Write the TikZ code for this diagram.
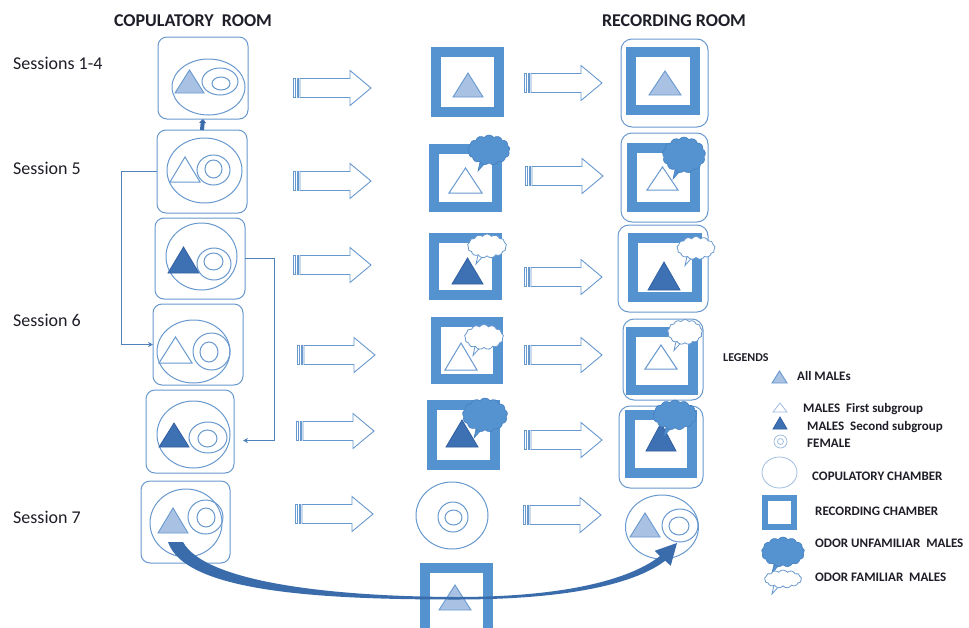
\documentclass[tikz,border=0pt]{standalone}
\usepackage{fontspec}
\setmainfont{Carlito}
\usetikzlibrary{shapes.symbols,shapes.geometric,arrows.meta,calc}
\definecolor{outl}{RGB}{104,153,206}
\definecolor{recblue}{RGB}{84,146,208}
\definecolor{ltfill}{RGB}{169,194,228}
\definecolor{dkfill}{RGB}{62,112,180}
\definecolor{dkline}{RGB}{50,95,160}
\definecolor{cloudblue}{RGB}{84,146,208}
\definecolor{cloudline}{RGB}{70,128,192}
\definecolor{connblue}{RGB}{79,129,189}
\definecolor{curvecol}{RGB}{58,108,172}
\definecolor{txt}{RGB}{30,30,40}
\definecolor{legline}{RGB}{160,190,225}
\newcommand{\mytri}[5]{\draw[#5] (#1,#4) -- (#3,#4) -- ({(#1+#3)/2},#2) -- cycle;}
\newcommand{\myoval}[5]{\draw[#5] ({(#1+#3)/2},{(#2+#4)/2}) ellipse [x radius={(#3-#1)/2}, y radius={(#4-#2)/2}];}
% name, cx, cy, w, h, style
\newcommand{\mycloud}[6]{%
  \filldraw[#6] ({#2-9},{#3+#5/2-3}) -- ({#2-3},{#3+#5/2-3}) -- ({#2-11},{#3+#5/2+6}) -- cycle;
  \node[cloudsh,#6,minimum width=#4pt,minimum height=#5pt] (#1) at (#2,#3) {};}
\begin{document}
\begin{tikzpicture}[x=1pt,y=-1pt,
  copbox/.style={draw=outl, line width=1pt, rounded corners=9pt, inner sep=0pt, outer sep=0pt},
  chamb/.style={draw=outl, line width=1pt},
  ltri/.style={fill=ltfill, draw=outl, line width=0.9pt},
  otri/.style={draw=outl, line width=1pt, fill=white},
  dtri/.style={fill=dkfill, draw=dkline, line width=0.8pt},
  fem/.style={draw=outl, line width=1pt},
  recsq/.style={draw=recblue, line width=10pt, inner sep=0pt, outer sep=0pt},
  rbox/.style={draw=outl, line width=1pt, rounded corners=11pt, inner sep=0pt, outer sep=0pt},
  darkcloud/.style={fill=cloudblue, draw=cloudline, line width=0.6pt},
  whitecloud/.style={fill=white, draw=outl, line width=0.8pt},
  cloudsh/.style={cloud, cloud puffs=13, cloud puff arc=110, cloud ignores aspect, inner sep=0pt, outer sep=0pt},
  arrowline/.style={draw=outl, line width=0.9pt, fill=white},
  conn/.style={draw=connblue, line width=1pt},
  lbl/.style={font=\fontsize{18}{20}\selectfont, anchor=west, text=txt, inner sep=0pt},
  ttl/.style={font=\bfseries\fontsize{18}{20}\selectfont, text=txt, inner sep=0pt},
  leg/.style={font=\bfseries\fontsize{13}{15}\selectfont, anchor=west, text=txt, inner sep=0pt},
  barrow/.pic={
    \draw[arrowline] (0,-9.5) rectangle (2.5,9.5);
    \draw[arrowline] (4,-9.5) rectangle (5.5,9.5);
    \draw[arrowline] (7,-9.5) -- (57,-9.5) -- (57,-17.5) -- (78,0) -- (57,17.5) -- (57,9.5) -- (7,9.5) -- cycle;
  }]
\useasboundingbox[fill=white] (0,0) rectangle (969,627);

% titles and labels
\node[ttl] (t1) at (193,21) {COPULATORY\ \ ROOM};
\node[ttl] (t2) at (674,21) {RECORDING ROOM};
\node[lbl] (s1) at (13,63) {Sessions 1-4};
\node[lbl] (s5) at (13,168) {Session 5};
\node[lbl] (s6) at (13,320) {Session 6};
\node[lbl] (s7) at (13,517) {Session 7};

% ---------- copulatory column ----------
\node[copbox, minimum width=90pt, minimum height=82pt] (c1) at (203,78) {};
\myoval{172}{59}{245}{115}{chamb}
\mytri{175}{70}{204}{93}{ltri}
\myoval{202}{68}{238}{95}{fem}
\myoval{212}{77}{230}{90}{fem}

\node[copbox, minimum width=90pt, minimum height=83pt] (c2) at (202,171.5) {};
\myoval{167}{138}{242}{203}{chamb}
\mytri{170}{157}{200}{182}{otri}
\myoval{197}{155}{230}{185}{fem}
\myoval{205}{160}{222}{178}{fem}

\node[copbox, minimum width=90pt, minimum height=81pt] (c3) at (200,258.5) {};
\myoval{166}{223}{237}{290}{chamb}
\mytri{168}{247}{199}{273}{dtri}
\myoval{197}{248}{231}{280}{fem}
\myoval{204}{253}{223}{270}{fem}

\node[copbox, minimum width=90pt, minimum height=81pt] (c4) at (198,344.5) {};
\myoval{157}{320}{230}{383}{chamb}
\mytri{159}{337}{192}{363}{otri}
\myoval{193}{333}{230}{370}{fem}
\myoval{200}{342}{218}{362}{fem}

\node[copbox, minimum width=88pt, minimum height=83pt] (c5) at (190,431.5) {};
\myoval{157}{401}{230}{468}{chamb}
\mytri{159}{423}{189}{447}{dtri}
\myoval{189}{422}{227}{453}{fem}
\myoval{198}{430}{217}{447}{fem}

\node[copbox, minimum width=89pt, minimum height=82pt] (c6) at (185.5,522) {};
\myoval{150}{489}{222}{557}{chamb}
\mytri{158}{508}{188}{533}{ltri}
\myoval{188}{500}{223}{534}{fem}
\myoval{197}{508}{215}{527}{fem}

% connectors on the left
\draw[line width=4pt, draw=curvecol, -{Triangle[length=4pt,width=7pt]}] (c2.north) -- (c1.south);
\draw[conn, -{Stealth[length=5pt,width=5pt]}] (c2.west) -- ++(-36,0) |- (c4.west);
\coordinate (c5in) at ([xshift=9pt,yshift=-9pt]c5.east);
\draw[conn, -{Stealth[length=5pt,width=5pt]}] (c3.east) -- ++(29,0) |- (c5in);

% ---------- block arrows ----------
\pic at (293,88) {barrow};
\pic at (293,181) {barrow};
\pic at (293,265) {barrow};
\pic at (297,355) {barrow};
\pic at (296,431) {barrow};
\pic at (295,514) {barrow};
\pic at (524,83) {barrow};
\pic at (525,176) {barrow};
\pic at (524,277) {barrow};
\pic at (524,355) {barrow};
\pic at (524,440) {barrow};
\pic at (523,515) {barrow};

% ---------- middle column ----------
\node[recsq, minimum width=63pt, minimum height=60pt] (r1) at (467.5,82) {};
\mytri{453}{73}{483}{97}{ltri}

\node[recsq, minimum width=63pt, minimum height=58pt] (r2) at (465.5,178) {};
\mytri{449}{168}{482}{193}{otri}
\mycloud{k2}{489}{150}{42}{30}{darkcloud}

\node[recsq, minimum width=63pt, minimum height=57pt] (r3) at (465.5,266.5) {};
\mytri{452}{258}{483}{284}{dtri}
\mycloud{k3}{487}{246}{39}{24}{whitecloud}

\node[recsq, minimum width=62pt, minimum height=57pt] (r4) at (467,350.5) {};
\mytri{445}{343}{477}{370}{otri}
\mycloud{k4}{484}{337}{39}{25}{whitecloud}

\node[recsq, minimum width=63pt, minimum height=60pt] (r5) at (463.5,435) {};
\mytri{446}{420}{478}{447}{dtri}
\mycloud{k5}{485}{415}{45}{34}{darkcloud}

\node[ellipse, chamb, minimum width=72pt, minimum height=67pt, inner sep=0pt] (r6) at (452,515.5) {};
\myoval{438}{502}{468}{532}{fem}
\myoval{445}{510}{462}{525}{fem}

\node[recsq, minimum width=63pt, minimum height=67pt] (r7) at (456.5,601.5) {};
\mytri{439}{585}{471}{610}{ltri}

% ---------- right column ----------
\node[rbox, minimum width=87pt, minimum height=88pt] (q1) at (664.5,83) {};
\node[recsq, minimum width=64pt, minimum height=58pt] (q1s) at (663,81) {};
\mytri{649}{71}{681}{95}{ltri}

\node[rbox, minimum width=87pt, minimum height=89pt] (q2) at (664.5,177.5) {};
\node[recsq, minimum width=63pt, minimum height=59pt] (q2s) at (663.5,177.5) {};
\mytri{647}{167}{678}{190}{otri}
\mycloud{m2}{684}{155}{43}{36}{darkcloud}

\node[rbox, minimum width=90pt, minimum height=87pt] (q3) at (663,268.5) {};
\node[recsq, minimum width=64pt, minimum height=59pt] (q3s) at (665,267.5) {};
\mytri{648}{262}{680}{290}{dtri}
\mycloud{m3}{696}{248}{38}{23}{whitecloud}

\node[rbox, minimum width=80pt, minimum height=81pt] (q4) at (663,359.5) {};
\node[recsq, minimum width=62pt, minimum height=58pt] (q4s) at (662,361) {};
\mytri{645}{345}{677}{369}{otri}
\mycloud{m4}{685}{332}{35}{25}{whitecloud}

\node[rbox, minimum width=84pt, minimum height=82pt] (q5) at (661,447) {};
\node[recsq, minimum width=62pt, minimum height=58pt] (q5s) at (661,444) {};
\mytri{646}{423}{676}{451}{dtri}
\mycloud{m5}{675}{415}{44}{30}{darkcloud}

\node[ellipse, chamb, minimum width=73pt, minimum height=64pt, inner sep=0pt] (q6) at (662,527) {};
\mytri{630}{513}{660}{537}{ltri}
\myoval{662}{509}{698}{542}{fem}
\myoval{669}{517}{689}{535}{fem}

% ---------- curved arrow ----------
\fill[curvecol] (168,542) -- (183,542) .. controls (205,582) and (330,596.5) .. (456,597)
  .. controls (560,597) and (628,581) .. (660,556) -- (654.7,550.8) -- (677,543) -- (670.7,565.8) -- (665.2,560.7)
  .. controls (632,586) and (560,599.5) .. (456,599.5) .. controls (320,599.5) and (185,592) .. (168,542) -- cycle;

% ---------- legend ----------
\node[leg, font=\bfseries\fontsize{12}{14}\selectfont] (lg) at (723,358) {LEGENDS};
\mytri{772}{371}{787}{383}{ltri}
\node[leg] (l1) at (797,376) {All MALEs};
\mytri{773}{403}{787}{412}{draw=legline, line width=0.8pt}
\node[leg] (l2) at (803,409) {MALES\ \ First subgroup};
\mytri{773}{417}{787}{429}{dtri}
\node[leg] (l3) at (807,427) {MALES\ \ Second subgroup};
\myoval{774}{435}{787}{448}{draw=legline, line width=0.8pt}
\myoval{777.5}{438.5}{783.5}{444.5}{draw=legline, line width=0.8pt}
\node[leg] (l4) at (807,443) {FEMALE};
\node[ellipse, draw=legline, line width=0.8pt, minimum width=35pt, minimum height=31pt, inner sep=0pt] (lc) at (779.5,472.5) {};
\node[leg] (l5) at (812,476) {COPULATORY CHAMBER};
\node[recsq, line width=6pt, minimum width=29pt, minimum height=29pt] (lr) at (779.5,512.5) {};
\node[leg] (l6) at (815,511) {RECORDING CHAMBER};
\mycloud{lk1}{783}{552}{43}{30}{darkcloud}
\node[leg] (l7) at (815,543) {ODOR UNFAMILIAR\ \ MALES};
\mycloud{lk2}{783}{579}{37}{18}{whitecloud}
\node[leg] (l8) at (815,577) {ODOR FAMILIAR\ \ MALES};
\end{tikzpicture}
\end{document}
